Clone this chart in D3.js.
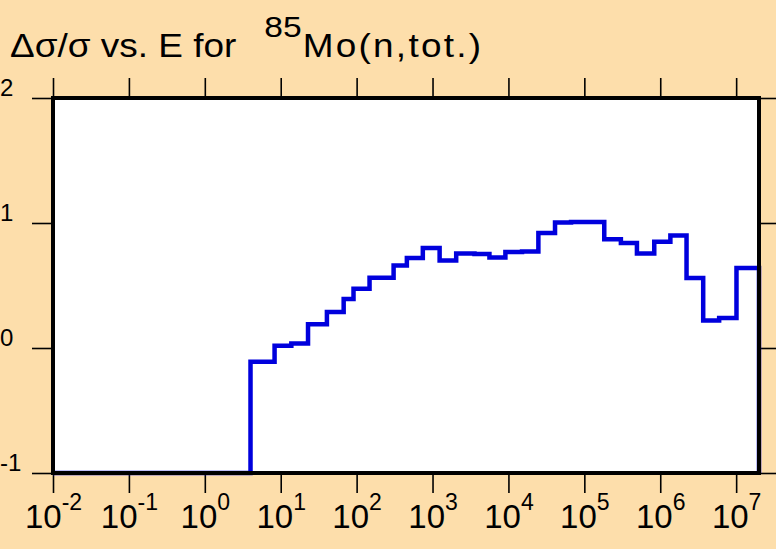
<!DOCTYPE html>
<html>
<head>
<meta charset="utf-8">
<script src="https://cdn.jsdelivr.net/npm/d3@7"></script>
<style>
  body { margin: 0; background: #fddeab; }
  svg { display: block; font-family: "Liberation Sans", Arial, sans-serif; }
</style>
</head>
<body>
<div id="chart"></div>
<script>
// Bin edges (eV) and the value in each bin (log10 scale of rel. uncertainty)
const edges = [1e-2, 4, 8.3, 13.8, 22.9, 40.6, 67.5, 91, 148, 307, 459, 745, 1240, 2050,
    3570, 5620, 9120, 15100, 24800, 41100, 66800, 1.83e5, 3.03e5, 4.93e5, 8.34e5,
    1.36e6, 2.22e6, 3.68e6, 5.97e6, 1.01e7, 2e7];
const values = [-1, -0.11, 0.018, 0.037, 0.19, 0.288, 0.392, 0.475, 0.563, 0.66, 0.72,
    0.80, 0.70, 0.757, 0.752, 0.725, 0.768, 0.772, 0.92, 1.005, 1.008, 0.87, 0.84,
    0.757, 0.85, 0.90, 0.56, 0.22, 0.24, 0.64];

// Tick values and labels
const xTicks = [1e-2, 1e-1, 1e0, 1e1, 1e2, 1e3, 1e4, 1e5, 1e6, 1e7];
const xExponents = ["-2", "-1", "0", "1", "2", "3", "4", "5", "6", "7"];
const yTicks = [-1, 0, 1, 2];
const yLabels = ["-1", "0", "1", "2"];

const W = 776, H = 549;
const plot = { left: 53, right: 759, top: 98, bottom: 473 };

const svg = d3.select("#chart")
    .append("svg")
    .attr("width", W)
    .attr("height", H);

svg.append("rect")
    .attr("width", W)
    .attr("height", H)
    .attr("fill", "#fddeab");

// Scales
const x = d3.scaleLog()
    .domain([edges[0], edges[edges.length - 1]])
    .range([plot.left, plot.right]);

const y = d3.scaleLinear()
    .domain([-1, 2])
    .range([plot.bottom, plot.top]);

// Plot area
svg.append("rect")
    .attr("x", plot.left)
    .attr("y", plot.top)
    .attr("width", plot.right - plot.left)
    .attr("height", plot.bottom - plot.top)
    .attr("fill", "#fff");

// Axes (ticks only, frame drawn separately)
function styleAxis(g) {
    g.select(".domain").remove();
    g.selectAll(".tick line").attr("stroke", "#000").attr("stroke-width", 1.6);
}

const xBottom = svg.append("g")
    .attr("transform", `translate(0,${plot.bottom})`)
    .call(d3.axisBottom(x).tickValues(xTicks).tickSize(20).tickFormat(""))
    .call(styleAxis);

svg.append("g")
    .attr("transform", `translate(0,${plot.top})`)
    .call(d3.axisTop(x).tickValues(xTicks).tickSize(20).tickFormat(""))
    .call(styleAxis);

const yLeft = svg.append("g")
    .attr("transform", `translate(${plot.left},0)`)
    .call(d3.axisLeft(y).tickValues(yTicks).tickSize(21).tickFormat(""))
    .call(styleAxis);

svg.append("g")
    .attr("transform", `translate(${plot.right},0)`)
    .call(d3.axisRight(y).tickValues(yTicks).tickSize(17).tickFormat(""))
    .call(styleAxis);

// X tick labels: 10^n
xBottom.selectAll(".tick text").remove();
xBottom.selectAll(".tick")
    .append("text")
    .attr("y", 55)
    .attr("text-anchor", "middle")
    .attr("fill", "#000")
    .style("font-size", "33px")
    .each(function(d, i) {
        const t = d3.select(this);
        t.append("tspan").text("10");
        t.append("tspan")
            .attr("dy", -18)
            .style("font-size", "23px")
            .text(xExponents[i]);
    });

// Y tick labels
yLeft.selectAll(".tick text").remove();
yLeft.selectAll(".tick")
    .append("text")
    .attr("x", -plot.left)
    .attr("y", -3)
    .attr("text-anchor", "start")
    .attr("fill", "#000")
    .style("font-size", "24px")
    .text((d, i) => yLabels[i]);

// Step line
const pts = edges.slice(0, -1).map((e, i) => ({ e: e, v: values[i] }));
pts.push({ e: edges[edges.length - 1], v: values[values.length - 1] });
pts.push({ e: edges[edges.length - 1], v: -1 });

const line = d3.line()
    .x(d => x(d.e))
    .y(d => y(d.v))
    .curve(d3.curveStepAfter);

svg.append("path")
    .datum(pts)
    .attr("fill", "none")
    .attr("stroke", "#0000dd")
    .attr("stroke-width", 4.5)
    .attr("d", line);

// Frame
svg.append("rect")
    .attr("x", plot.left)
    .attr("y", plot.top)
    .attr("width", plot.right - plot.left)
    .attr("height", plot.bottom - plot.top)
    .attr("fill", "none")
    .attr("stroke", "#000")
    .attr("stroke-width", 4);

// Title (the original plot's font is a bit wider)
const title = svg.append("text")
    .attr("transform", "translate(10,57) scale(1.12,1)")
    .attr("fill", "#000")
    .style("font-size", "33px");
title.append("tspan").text("\u0394\u03c3/\u03c3 vs. E for");
title.append("tspan").attr("dx", 25).attr("dy", -20).style("font-size", "30px").text("85");
title.append("tspan").attr("dx", 1).attr("dy", 20)
    .style("letter-spacing", "2px")
    .text("Mo(n,tot.)");
</script>
</body>
</html>
